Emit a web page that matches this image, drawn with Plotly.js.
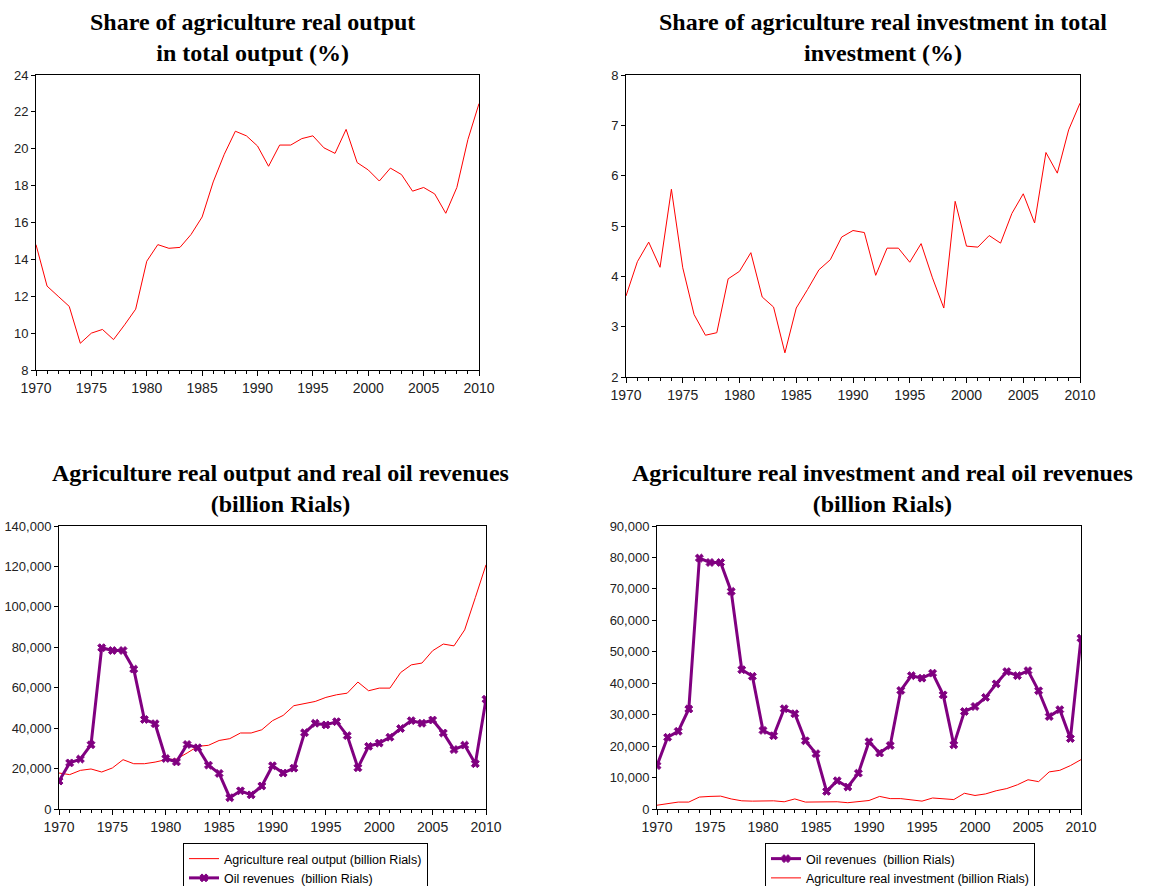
<!DOCTYPE html>
<html>
<head>
<meta charset="utf-8">
<script src="https://cdn.plot.ly/plotly-3.0.1.min.js"></script>
<style>html,body{margin:0;padding:0;background:#fff;overflow:hidden;}#chart{width:1172px;height:886px;}</style>
</head>
<body>
<div id="chart"></div>
<script>
const years = [];
for (let y = 1970; y <= 2010; y++) years.push(y);

const agriOutputShare = [14.8,12.55,12.0,11.45,9.45,10.0,10.2,9.65,10.45,11.3,
  13.9,14.8,14.6,14.65,15.35,16.3,18.2,19.7,20.95,20.7,
  20.15,19.05,20.2,20.2,20.55,20.7,20.05,19.75,21.05,19.25,
  18.85,18.25,18.95,18.6,17.7,17.9,17.55,16.5,17.9,20.5,22.45];

const agriInvestShare = [3.61,4.29,4.68,4.18,5.73,4.17,3.24,2.83,2.88,3.95,
  4.1,4.47,3.59,3.39,2.48,3.37,3.74,4.13,4.33,4.78,
  4.91,4.87,4.02,4.56,4.56,4.28,4.65,3.97,3.37,5.49,
  4.6,4.58,4.81,4.66,5.25,5.64,5.06,6.46,6.05,6.91,7.44];

const oilRevenues = [13800,22800,24700,31800,79800,78400,78400,69200,44300,42200,
  25000,23300,31900,30300,21700,17600,5600,9000,7000,11400,
  21400,17800,20200,37700,42400,41600,43200,36300,20400,31000,
  32600,35500,39800,43700,42400,44000,37600,29400,31600,22400,54300];

const agriOutput = [17800,17000,19100,19800,18300,20300,24400,22400,22400,23200,
  24400,24700,27700,31000,31500,33900,34800,37600,37600,39200,
  43700,46300,51100,52100,53200,55200,56500,57300,62800,58500,
  59800,59800,67500,71300,72200,78300,81600,80700,88600,104600,120800];

const agriInvestment = [1200,1700,2200,2200,3800,4000,4100,3200,2600,2500,
  2600,2600,2300,3200,2200,2300,2200,2300,2000,2300,
  2700,4000,3300,3300,2900,2500,3500,3300,3000,5000,
  4300,4800,5800,6500,7700,9300,8700,11800,12300,13800,15700];

const titles = [
  "Share of agriculture real output<br>in total output (%)",
  "Share of agriculture real investment in total<br>investment (%)",
  "Agriculture real output and real oil revenues<br>(billion Rials)",
  "Agriculture real investment and real oil revenues<br>(billion Rials)"
];

const RED = '#ff0000', PURPLE = '#800080';
const W = 1172, H = 886;
const px = (a, b) => [a / W, b / W];
const py = (top, bottom) => [1 - bottom / H, 1 - top / H];

const xTickFont = {family: 'Liberation Sans, Arial, sans-serif', size: 14, color: '#222'};
const yTickFont = {family: 'Liberation Sans, Arial, sans-serif', size: 13, color: '#222'};

function xax(domain, anchor) {
  return {
    domain: domain, anchor: anchor, range: [1970, 2010],
    tickmode: 'linear', tick0: 1970, dtick: 5,
    ticks: 'outside', ticklen: 5, tickwidth: 1, tickcolor: '#000',
    minor: {dtick: 1, ticks: 'outside', ticklen: 3, tickcolor: '#000', showgrid: false},
    showline: true, linecolor: '#000', linewidth: 1, mirror: true,
    showgrid: false, zeroline: false, tickfont: xTickFont, tickformat: 'd'
  };
}
function yax(domain, anchor, range, dtick, fmt) {
  return {
    domain: domain, anchor: anchor, range: range,
    tickmode: 'linear', tick0: range[0], dtick: dtick,
    ticks: 'outside', ticklen: 4, tickwidth: 1, tickcolor: '#000',
    showline: true, linecolor: '#000', linewidth: 1, mirror: true,
    showgrid: false, zeroline: false, tickfont: yTickFont, tickformat: fmt
  };
}

const oilMarker = {symbol: 'x', size: 7, color: PURPLE, line: {width: 1, color: PURPLE}};

const traces = [
  {x: years, y: agriOutputShare, xaxis: 'x', yaxis: 'y', type: 'scatter', mode: 'lines',
   line: {color: RED, width: 1}, showlegend: false},
  {x: years, y: agriInvestShare, xaxis: 'x2', yaxis: 'y2', type: 'scatter', mode: 'lines',
   line: {color: RED, width: 1}, showlegend: false},
  {x: years, y: agriOutput, xaxis: 'x3', yaxis: 'y3', type: 'scatter', mode: 'lines',
   name: 'Agriculture real output (billion Rials)', legend: 'legend',
   line: {color: RED, width: 1}},
  {x: years, y: oilRevenues, xaxis: 'x3', yaxis: 'y3', type: 'scatter', mode: 'lines+markers',
   name: 'Oil revenues  (billion Rials)', legend: 'legend',
   line: {color: PURPLE, width: 3}, marker: oilMarker},
  {x: years, y: oilRevenues, xaxis: 'x4', yaxis: 'y4', type: 'scatter', mode: 'lines+markers',
   name: 'Oil revenues  (billion Rials)', legend: 'legend2',
   line: {color: PURPLE, width: 3}, marker: oilMarker},
  {x: years, y: agriInvestment, xaxis: 'x4', yaxis: 'y4', type: 'scatter', mode: 'lines',
   name: 'Agriculture real investment (billion Rials)', legend: 'legend2',
   line: {color: RED, width: 1}}
];

const titleFont = {family: 'Liberation Serif, Times New Roman, serif', size: 24, color: '#000'};
const legendFont = {family: 'Liberation Sans, Arial, sans-serif', size: 12.5, color: '#000'};

const layout = {
  width: W, height: H,
  margin: {l: 0, r: 0, t: 0, b: 0, pad: 0, autoexpand: false},
  paper_bgcolor: '#fff', plot_bgcolor: '#fff',
  xaxis: xax(px(36, 479), 'y'),
  yaxis: yax(py(75, 370), 'x', [8, 24], 2, 'd'),
  xaxis2: xax(px(626, 1080), 'y2'),
  yaxis2: yax(py(75, 377), 'x2', [2, 8], 1, 'd'),
  xaxis3: xax(px(59, 486), 'y3'),
  yaxis3: yax(py(526, 809), 'x3', [0, 140000], 20000, ',d'),
  xaxis4: xax(px(657, 1081), 'y4'),
  yaxis4: yax(py(526, 809), 'x4', [0, 90000], 10000, ',d'),
  legend: {x: 183 / W, y: 1 - 843 / H, xanchor: 'left', yanchor: 'top',
           bordercolor: '#000', borderwidth: 1, bgcolor: '#fff', font: legendFont,
           tracegroupgap: 0, itemwidth: 30},
  legend2: {x: 765 / W, y: 1 - 843 / H, xanchor: 'left', yanchor: 'top',
           bordercolor: '#000', borderwidth: 1, bgcolor: '#fff', font: legendFont,
           tracegroupgap: 0, itemwidth: 30},
  annotations: [
    {text: '<b>' + titles[0] + '</b>', x: 252 / W, y: 1 - 37 / H},
    {text: '<b>' + titles[1] + '</b>', x: 883 / W, y: 1 - 37 / H},
    {text: '<b>' + titles[2] + '</b>', x: 280 / W, y: 1 - 488 / H},
    {text: '<b>' + titles[3] + '</b>', x: 882 / W, y: 1 - 488 / H}
  ].map(a => Object.assign(a, {xref: 'paper', yref: 'paper', xanchor: 'center', yanchor: 'middle',
                               showarrow: false, font: titleFont, align: 'center'}))
};

Plotly.newPlot('chart', traces, layout, {displayModeBar: false, staticPlot: true});
</script>
</body>
</html>
